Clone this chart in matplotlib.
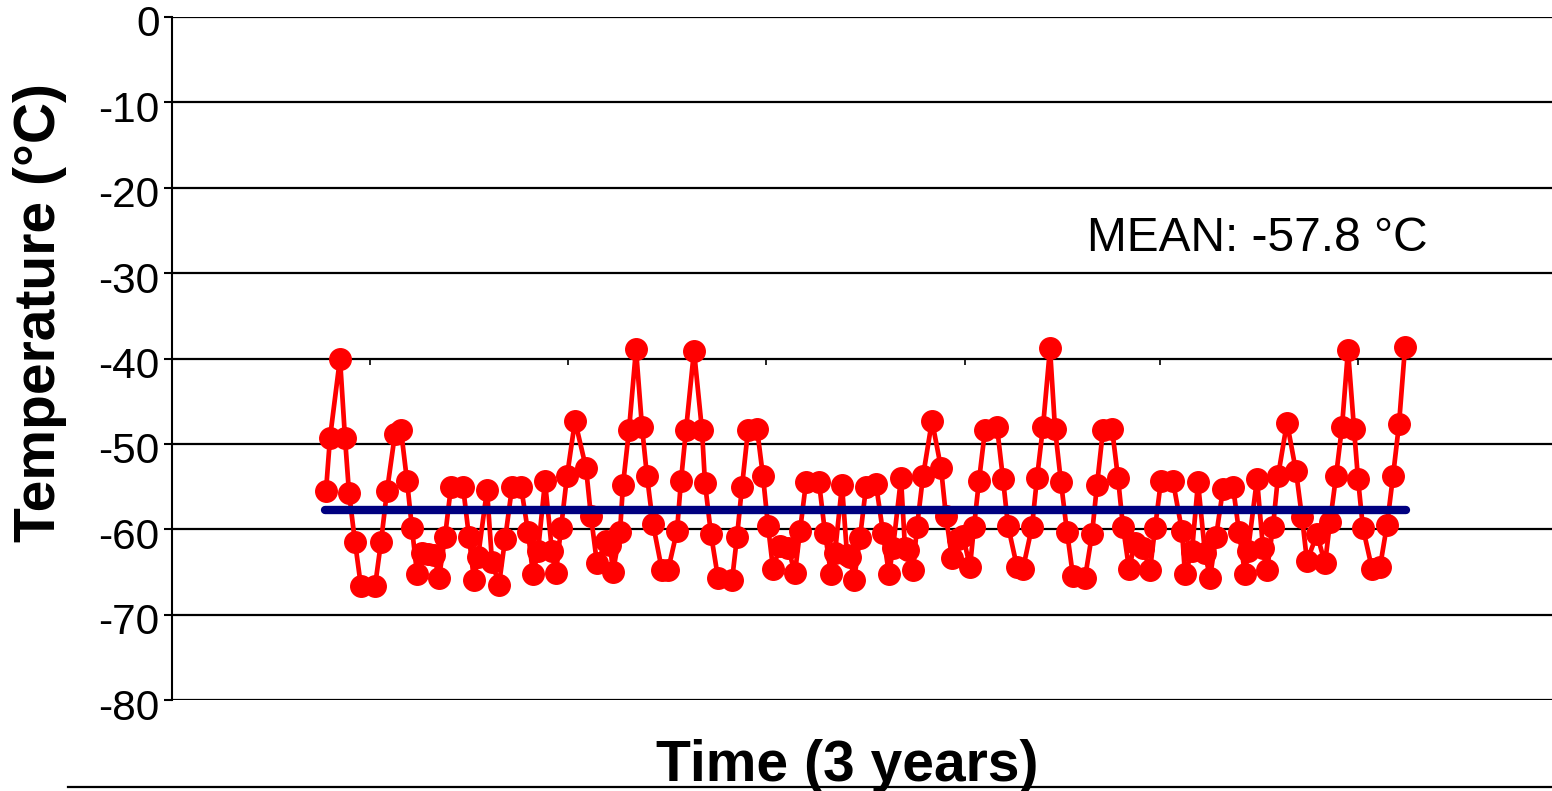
import matplotlib
matplotlib.use("Agg")
import matplotlib.pyplot as plt
from matplotlib.lines import Line2D
from matplotlib.transforms import ScaledTranslation

# ---- data (time in days over ~3 years, temperature in °C) ----
time_px = [326, 330, 340, 345, 349, 355, 361, 375, 381, 387, 395, 401, 407, 412, 417, 422, 428, 434, 439, 445,
           451, 463, 469, 474, 478, 487, 492, 499, 505, 512, 521, 528, 533, 538, 545, 552, 556, 561, 567, 575,
           586, 591, 597, 606, 610, 613, 620, 623, 629, 636, 642, 647, 653, 662, 668, 677, 681, 686, 694, 702,
           705, 711, 718, 732, 737, 742, 748, 757, 763, 768, 773, 780, 788, 795, 800, 806, 819, 825, 831, 835,
           842, 847, 850, 854, 860, 866, 876, 883, 889, 893, 901, 905, 908, 913, 917, 923, 932, 941, 946, 952,
           958, 963, 970, 974, 979, 985, 997, 1003, 1008, 1017, 1023, 1032, 1037, 1043, 1050, 1055, 1061, 1067,
           1073, 1085, 1092, 1097, 1103, 1112, 1118, 1123, 1129, 1135, 1143, 1150, 1155, 1161, 1173, 1182, 1185,
           1192, 1198, 1205, 1210, 1216, 1223, 1233, 1239, 1245, 1248, 1257, 1263, 1267, 1273, 1278, 1287, 1296,
           1302, 1307, 1317, 1325, 1330, 1336, 1342, 1348, 1354, 1358, 1363, 1372, 1380, 1387, 1393, 1399, 1405]
days = [p - 326 for p in time_px]

temperature = [-55.5, -49.3, -40.0, -49.3, -55.7, -61.5, -66.7, -66.7, -61.5, -55.5, -48.8, -48.4, -54.3, -59.9,
               -65.2, -62.8, -62.9, -63.0, -65.7, -60.9, -55.0, -55.0, -60.9, -66.0, -63.3, -55.4, -63.8, -66.5,
               -61.2, -55.1, -55.0, -60.3, -65.3, -62.6, -54.4, -62.6, -65.1, -59.9, -53.8, -47.3, -52.8, -58.5,
               -64.0, -61.4, -61.8, -65.0, -60.3, -54.8, -48.4, -38.9, -48.0, -53.8, -59.4, -64.8, -64.8, -60.2,
               -54.3, -48.4, -39.1, -48.4, -54.6, -60.6, -65.7, -66.0, -60.9, -55.0, -48.4, -48.2, -53.8, -59.6,
               -64.6, -62.0, -62.2, -65.1, -60.2, -54.5, -54.5, -60.4, -65.3, -62.8, -54.8, -63.0, -63.2, -66.0,
               -61.0, -55.1, -54.7, -60.4, -65.3, -62.2, -54.0, -62.2, -62.4, -64.8, -59.7, -53.8, -47.3, -52.8,
               -58.5, -63.4, -61.2, -60.8, -64.4, -59.7, -54.3, -48.4, -48.0, -54.1, -59.6, -64.4, -64.6, -59.7,
               -54.0, -48.0, -38.8, -48.2, -54.5, -60.3, -65.5, -65.7, -60.6, -54.8, -48.4, -48.2, -54.0, -59.7,
               -64.6, -61.6, -62.2, -64.8, -59.9, -54.3, -54.4, -60.2, -65.3, -62.6, -54.5, -62.8, -65.7, -60.9,
               -55.3, -55.0, -60.3, -65.3, -62.5, -54.1, -62.2, -64.8, -59.7, -53.8, -47.5, -53.2, -58.6, -63.7,
               -60.6, -64.0, -59.2, -53.8, -48.0, -39.0, -48.2, -54.1, -59.9, -64.6, -64.4, -59.5, -53.8, -47.7,
               -38.7]

mean_value = -57.8
mean_label = "MEAN: -57.8 °C"
y_ticks = [0, -10, -20, -30, -40, -50, -60, -70, -80]
minor_marks = [44, 242, 440, 639, 834, 1032]

plt.rcParams['font.family'] = ['Liberation Sans', 'DejaVu Sans']

W, H = 1552, 791
fig = plt.figure(figsize=(W / 100, H / 100), dpi=100)
ax = fig.add_axes([172 / W, 1 - 700 / H, 1 - 172 / W, (700 - 17) / H])

ax.set_xlim(-154, 1226)
ax.set_ylim(-80, 0)
ax.set_yticks(y_ticks)
ax.set_yticklabels([str(v) for v in y_ticks], fontsize=30.5)
ax.tick_params(axis='y', length=6, width=1.5, pad=3, color='black')
off = ScaledTranslation(0, -4 / 100, fig.dpi_scale_trans)
for lab in ax.get_yticklabels():
    lab.set_transform(lab.get_transform() + off)
ax.set_xticks([])
ax.yaxis.grid(True, color='black', linewidth=1.6)
ax.set_axisbelow(True)
for s in ['top', 'right', 'bottom']:
    ax.spines[s].set_visible(False)
ax.spines['left'].set_linewidth(1.5)

# small stray marks under the -40 gridline
ax.vlines(minor_marks, -40.8, -40, color='black', linewidth=1.2)

ax.plot(days, temperature, color='#ff0000', linewidth=3.4, marker='o',
        markersize=15.5, markerfacecolor='#ff0000', markeredgecolor='#ff0000', zorder=3)
ax.plot([days[0] - 1, days[-1] + 1], [mean_value, mean_value], color='#000080',
        linewidth=6, solid_capstyle='round', zorder=4)

ax.text(1087 - 172 - 154, -25.9, mean_label, fontsize=34.5, color='black', va='center', ha='left')

fig.text(40 / W, 1 - 312 / H, "Temperature (°C)", rotation=90, fontsize=41, fontweight='bold',
         ha='center', va='center')
fig.text(847 / W, 1 - 781 / H, "Time (3 years)", fontsize=41, fontweight='bold',
         ha='center', va='baseline')
fig.add_artist(Line2D([68 / W, 1], [1 - 787 / H, 1 - 787 / H], color='black', linewidth=1.6))

fig.savefig("out.png", dpi=100)
